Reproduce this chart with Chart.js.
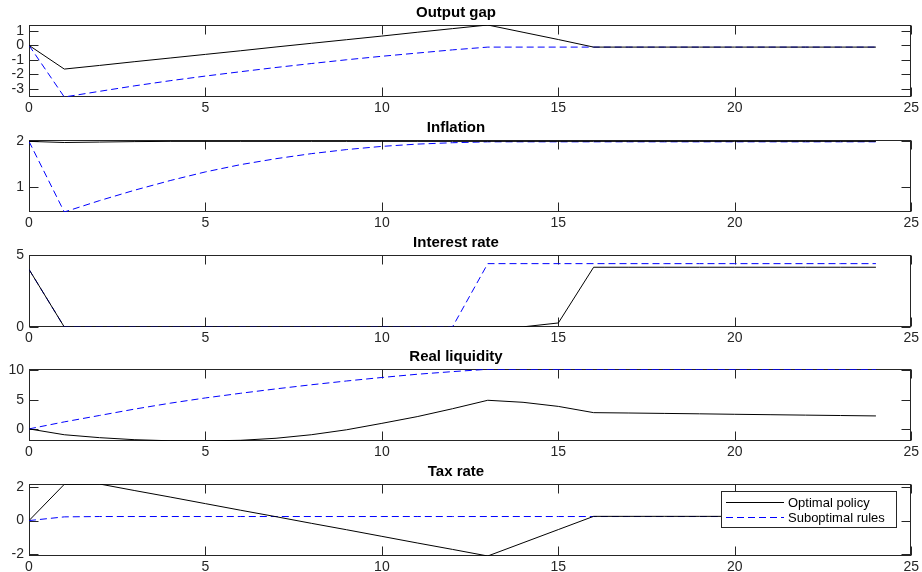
<!DOCTYPE html>
<html>
<head>
<meta charset="utf-8">
<script src="https://cdn.jsdelivr.net/npm/chart.js@4.4.1/dist/chart.umd.min.js"></script>
<style>
  body { margin: 0; background: #fff; }
  #wrap { position: relative; width: 922px; height: 572px; overflow: hidden; }
  canvas { position: absolute; left: 0; }
</style>
</head>
<body>
<div id="wrap">
  <canvas id="c0" width="922" height="117"></canvas>
  <canvas id="c1" width="922" height="117"></canvas>
  <canvas id="c2" width="922" height="117"></canvas>
  <canvas id="c3" width="922" height="117"></canvas>
  <canvas id="c4" width="922" height="117"></canvas>
</div>
<script>
// periods on the horizontal axis
let periods = [0, 1, 2, 3, 4, 5, 6, 7, 8, 9, 10, 11, 12, 13, 14, 15, 16, 17, 18, 19, 20, 21, 22, 23, 24];
let xTicks = [0, 5, 10, 15, 20, 25];
let seriesNames = ['Optimal policy', 'Suboptimal rules'];
let panelTitles = ['Output gap', 'Inflation', 'Interest rate', 'Real liquidity', 'Tax rate'];

// output gap
let outputGapOptimal = [0, -1.63, -1.38, -1.12, -0.87, -0.62, -0.37, -0.11, 0.14, 0.39, 0.64, 0.90, 1.15, 1.40, 0.90, 0.40, -0.12, -0.12, -0.12, -0.12, -0.12, -0.12, -0.12, -0.12, -0.12];
let outputGapSuboptimal = [0, -3.55, -3.16, -2.78, -2.43, -2.11, -1.81, -1.52, -1.25, -0.99, -0.75, -0.53, -0.31, -0.12, -0.12, -0.12, -0.12, -0.12, -0.12, -0.12, -0.12, -0.12, -0.12, -0.12, -0.12];
let outputGapTicks = [-3, -2, -1, 0, 1];

// inflation
let inflationOptimal = [2.0, 1.975, 1.985, 1.995, 2.0, 2.0, 2.0, 2.0, 2.0, 2.0, 2.0, 2.0, 2.0, 2.0, 2.0, 2.0, 2.0, 2.0, 2.0, 2.0, 2.0, 2.0, 2.0, 2.0, 2.0];
let inflationSuboptimal = [2.0, 0.45, 0.70, 0.93, 1.14, 1.33, 1.49, 1.62, 1.73, 1.82, 1.89, 1.94, 1.97, 1.99, 1.99, 1.99, 1.99, 1.99, 1.99, 1.99, 1.99, 1.99, 1.99, 1.99, 1.99];
let inflationTicks = [1, 2];

// interest rate
let interestOptimal = [4.0, 0, 0, 0, 0, 0, 0, 0, 0, 0, 0, 0, 0, 0, 0.01, 0.28, 4.15, 4.15, 4.15, 4.15, 4.15, 4.15, 4.15, 4.15, 4.15];
let interestSuboptimal = [4.0, 0, 0, 0, 0, 0, 0, 0, 0, 0, 0, 0, 0, 4.4, 4.4, 4.4, 4.4, 4.4, 4.4, 4.4, 4.4, 4.4, 4.4, 4.4, 4.4];
let interestTicks = [0, 5];

// real liquidity
let liquidityOptimal = [0, -1.0, -1.5, -1.85, -2.03, -2.06, -1.95, -1.6, -1.0, -0.15, 0.95, 2.1, 3.45, 4.9, 4.55, 3.85, 2.78, 2.72, 2.65, 2.58, 2.5, 2.43, 2.36, 2.29, 2.22];
let liquiditySuboptimal = [0, 1.2, 2.3, 3.4, 4.4, 5.3, 6.1, 6.85, 7.55, 8.2, 8.8, 9.35, 9.8, 10.2, 10.2, 10.2, 10.2, 10.2, 10.2, 10.2, 10.2, 10.2, 10.2, 10.2, 10.2];
let liquidityTicks = [0, 5, 10];

// tax rate
let taxOptimal = [0, 2.14, 2.16, 1.77, 1.39, 1.00, 0.61, 0.23, -0.16, -0.54, -0.93, -1.32, -1.70, -2.09, -1.31, -0.53, 0.25, 0.25, 0.25, 0.25, 0.25, 0.25, 0.25, 0.25, 0.25];
let taxSuboptimal = [0, 0.22, 0.24, 0.24, 0.24, 0.24, 0.24, 0.24, 0.24, 0.24, 0.24, 0.24, 0.24, 0.24, 0.24, 0.24, 0.24, 0.24, 0.24, 0.24, 0.24, 0.24, 0.24, 0.24, 0.24];
let taxTicks = [-2, 0, 2];

// axis limits (tight)
let yMins = [-3.55, 0.45, 0, -2.07, -2.09];
let yMaxs = [1.40, 2.03, 5, 10.25, 2.16];

let optimalSeries = [outputGapOptimal, inflationOptimal, interestOptimal, liquidityOptimal, taxOptimal];
let suboptimalSeries = [outputGapSuboptimal, inflationSuboptimal, interestSuboptimal, liquiditySuboptimal, taxSuboptimal];
let yTickSets = [outputGapTicks, inflationTicks, interestTicks, liquidityTicks, taxTicks];

let panelTops = [25, 140, 255, 369, 484];
let axisColor = '#262626';
let fontFamily = '"Liberation Sans", Arial, Helvetica, sans-serif';

// box around the plot area with inward ticks on all four sides
const matlabBox = {
  id: 'matlabBox',
  beforeDatasetsDraw(chart) {
    const {ctx, chartArea: a, scales} = chart;
    const l = Math.round(a.left) + 0.5, r = Math.round(a.right) - 0.5;
    const t = Math.round(a.top) + 0.5, b = Math.round(a.bottom) - 0.5;
    const len = 9;
    ctx.save();
    ctx.strokeStyle = axisColor;
    ctx.lineWidth = 1;
    ctx.beginPath();
    scales.x.ticks.forEach(tk => {
      const px = Math.round(scales.x.getPixelForValue(tk.value)) + 0.5;
      ctx.moveTo(px, b); ctx.lineTo(px, b - len);
      ctx.moveTo(px, t); ctx.lineTo(px, t + len);
    });
    scales.y.ticks.forEach(tk => {
      const py = Math.round(scales.y.getPixelForValue(tk.value)) + 0.5;
      ctx.moveTo(l, py); ctx.lineTo(l + len, py);
      ctx.moveTo(r, py); ctx.lineTo(r - len, py);
    });
    ctx.stroke();
    ctx.strokeRect(l, t, r - l, b - t);
    ctx.restore();
  }
};

// legend drawn inside the plot area, Matlab style
const boxLegend = {
  id: 'boxLegend',
  afterDatasetsDraw(chart, args, opts) {
    if (!opts.show) return;
    const {ctx, chartArea: a} = chart;
    const w = 175, h = 36;
    const left = Math.round(a.right) - 15 - w;
    const top = Math.round(a.top) + 7;
    ctx.save();
    ctx.fillStyle = '#fff';
    ctx.fillRect(left, top, w, h);
    ctx.strokeStyle = axisColor;
    ctx.lineWidth = 1;
    ctx.strokeRect(left + 0.5, top + 0.5, w, h);
    ctx.font = '13px ' + fontFamily;
    ctx.textBaseline = 'middle';
    chart.data.datasets.forEach((ds, i) => {
      const yy = top + 11.5 + i * 15;
      ctx.save();
      ctx.strokeStyle = ds.borderColor;
      ctx.lineWidth = ds.borderWidth;
      ctx.setLineDash(ds.borderDash || []);
      ctx.beginPath();
      ctx.moveTo(left + 5, yy);
      ctx.lineTo(left + 63, yy);
      ctx.stroke();
      ctx.restore();
      ctx.fillStyle = '#000';
      ctx.fillText(ds.label, left + 67, yy + 0.5);
    });
    ctx.restore();
  }
};

function makePanel(i) {
  let canvas = document.getElementById('c' + i);
  canvas.style.top = (panelTops[i] - 25) + 'px';
  let optimal = periods.map((p, k) => ({x: p, y: optimalSeries[i][k]}));
  let suboptimal = periods.map((p, k) => ({x: p, y: suboptimalSeries[i][k]}));
  return new Chart(canvas.getContext('2d'), {
    type: 'line',
    data: {
      datasets: [{
        label: seriesNames[0],
        data: optimal,
        borderColor: '#000000',
        borderWidth: 1,
        pointRadius: 0,
        tension: 0,
        fill: false
      }, {
        label: seriesNames[1],
        data: suboptimal,
        borderColor: '#0000ff',
        borderWidth: 1,
        borderDash: [7, 4],
        pointRadius: 0,
        tension: 0,
        fill: false
      }]
    },
    options: {
      responsive: false,
      animation: false,
      events: [],
      layout: { padding: { left: 0, right: 10, top: 0, bottom: 0 } },
      plugins: {
        legend: { display: false },
        tooltip: { enabled: false },
        title: {
          display: true,
          text: panelTitles[i],
          color: '#000',
          font: { family: fontFamily, size: 15, weight: 'bold', lineHeight: 1.2 },
          padding: { top: 3.5, bottom: 3.5 }
        },
        boxLegend: { show: i === 4 }
      },
      scales: {
        x: {
          type: 'linear',
          min: 0,
          max: 25,
          afterBuildTicks: axis => { axis.ticks = xTicks.map(v => ({value: v})); },
          afterFit: axis => { axis.height = 20; },
          grid: { display: false, drawTicks: false },
          border: { display: false },
          ticks: {
            padding: 3,
            maxRotation: 0,
            autoSkip: false,
            color: axisColor,
            font: { family: fontFamily, size: 14 }
          }
        },
        y: {
          type: 'linear',
          min: yMins[i],
          max: yMaxs[i],
          afterBuildTicks: axis => { axis.ticks = yTickSets[i].map(v => ({value: v})); },
          afterFit: axis => { axis.width = 29; },
          grid: { display: false, drawTicks: false },
          border: { display: false },
          ticks: {
            padding: 5,
            autoSkip: false,
            color: axisColor,
            font: { family: fontFamily, size: 14 }
          }
        }
      }
    },
    plugins: [matlabBox, boxLegend]
  });
}

for (let i = 0; i < 5; i++) {
  makePanel(i);
}
</script>
</body>
</html>
